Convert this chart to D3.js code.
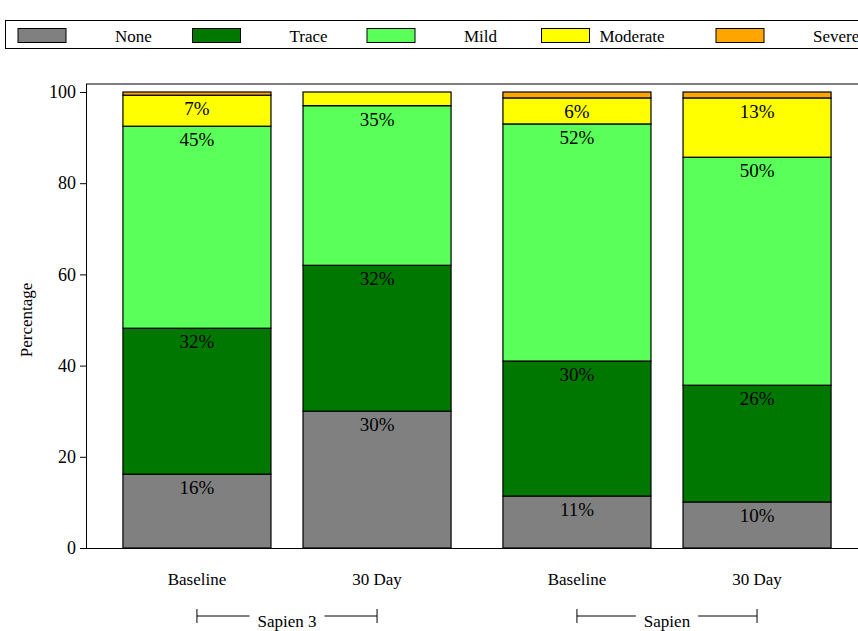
<!DOCTYPE html>
<html><head><meta charset="utf-8">
<script src="https://cdn.jsdelivr.net/npm/d3@7"></script>
<style>body{margin:0;background:#fff}svg,svg text{font-family:"Liberation Serif","Times New Roman",serif}</style>
</head><body><div id="chart"></div>
<script>
const groups = ["Sapien 3", "Sapien"];
const times = ["Baseline", "30 Day"];
const levels = ["None", "Trace", "Mild", "Moderate", "Severe"];
const colors = ["#808080", "#007800", "#5aff5a", "#ffff00", "#ffa500"];
// values per bar in order of levels
const sapien3Baseline = [16.2, 32, 44.3, 6.8, 0.7];
const sapien3Day30 = [30, 32, 35, 3, 0];
const sapienBaseline = [11.4, 29.6, 52, 5.7, 1.3];
const sapienDay30 = [10.1, 25.6, 50, 13, 1.3];
const labels = [["16%","32%","45%","7%",""],["30%","32%","35%","",""],["11%","30%","52%","6%",""],["10%","26%","50%","13%",""]];
const bars = [
  {group: "Sapien 3", time: "Baseline", values: sapien3Baseline, labels: labels[0]},
  {group: "Sapien 3", time: "30 Day", values: sapien3Day30, labels: labels[1]},
  {group: "Sapien", time: "Baseline", values: sapienBaseline, labels: labels[2]},
  {group: "Sapien", time: "30 Day", values: sapienDay30, labels: labels[3]}
];
const yTicks = [0, 20, 40, 60, 80, 100];

const width = 858, height = 631;
const svg = d3.select("#chart").append("svg").attr("width", width).attr("height", height);

const y = d3.scaleLinear().domain([0, 100]).range([548, 92]);
const x0 = d3.scaleBand().domain(groups).range([97, 857]);
const x1 = d3.scaleBand().domain(times).range([0, x0.bandwidth()]).paddingInner(0.178).paddingOuter(0.144);

// axes
svg.append("g").attr("transform", "translate(86,0)")
  .call(d3.axisLeft(y).tickValues(yTicks).tickSize(6).tickPadding(4))
  .attr("font-family", null).attr("font-size", 18)
  .call(g => g.selectAll("text").attr("fill", "#000"))
  .call(g => g.select(".domain").attr("d", "M-6,548.5H0.5V84"));
svg.append("line").attr("x1", 86).attr("x2", 858).attr("y1", 548.5).attr("y2", 548.5).attr("stroke", "#000");
svg.append("line").attr("x1", 86).attr("x2", 858).attr("y1", 84).attr("y2", 84).attr("stroke", "#000");

svg.append("text").attr("transform", "translate(32,320) rotate(-90)")
  .attr("text-anchor", "middle").attr("font-size", 17).text("Percentage");

// bars
bars.forEach(b => {
  const bx = x0(b.group) + x1(b.time);
  let cum = 0;
  b.values.forEach((v, i) => {
    const y0 = cum, y1 = cum + v;
    cum = y1;
    if (v <= 0) return;
    svg.append("rect").attr("x", bx).attr("width", x1.bandwidth())
      .attr("y", y(y1)).attr("height", y(y0) - y(y1))
      .attr("fill", colors[i]).attr("stroke", "#000").attr("stroke-width", 1.2);
    if (b.labels[i]) {
      svg.append("text").attr("x", bx + x1.bandwidth() / 2).attr("y", y(y1) + 20)
        .attr("text-anchor", "middle").attr("font-size", 19).text(b.labels[i]);
    }
  });
  svg.append("text").attr("x", bx + x1.bandwidth() / 2).attr("y", 585)
    .attr("text-anchor", "middle").attr("font-size", 17).text(b.time);
});

// group brackets
groups.forEach(g => {
  const cx = x0(g) + x0.bandwidth() / 2;
  const l = x0(g) + x1(times[0]) + x1.bandwidth() / 2;
  const r = x0(g) + x1(times[1]) + x1.bandwidth() / 2;
  const t = svg.append("text").attr("x", cx).attr("y", 627).attr("text-anchor", "middle")
    .attr("font-size", 17).text(g);
  const w = t.node().getComputedTextLength();
  const ly = 616;
  [[l, cx - w / 2 - 8], [cx + w / 2 + 8, r]].forEach(([a, c]) =>
    svg.append("line").attr("x1", a).attr("x2", c).attr("y1", ly).attr("y2", ly).attr("stroke", "#000"));
  [l, r].forEach(px => svg.append("line").attr("x1", px).attr("x2", px).attr("y1", ly - 7).attr("y2", ly + 7).attr("stroke", "#000"));
});

// legend
svg.append("rect").attr("x", 5.5).attr("y", 20.5).attr("width", 860).attr("height", 28)
  .attr("fill", "none").attr("stroke", "#000");
const lx = d3.scaleLinear().domain([0, 1]).range([18, 192.5]);
levels.forEach((lv, i) => {
  svg.append("rect").attr("x", lx(i)).attr("y", 28.5).attr("width", 48).attr("height", 14)
    .attr("fill", colors[i]).attr("stroke", "#000");
  const tx = i === 3 ? lx(i) + 58 : lx(i) + 97;
  svg.append("text").attr("x", tx).attr("y", 42).attr("font-size", 17).text(lv);
});
</script></body></html>
